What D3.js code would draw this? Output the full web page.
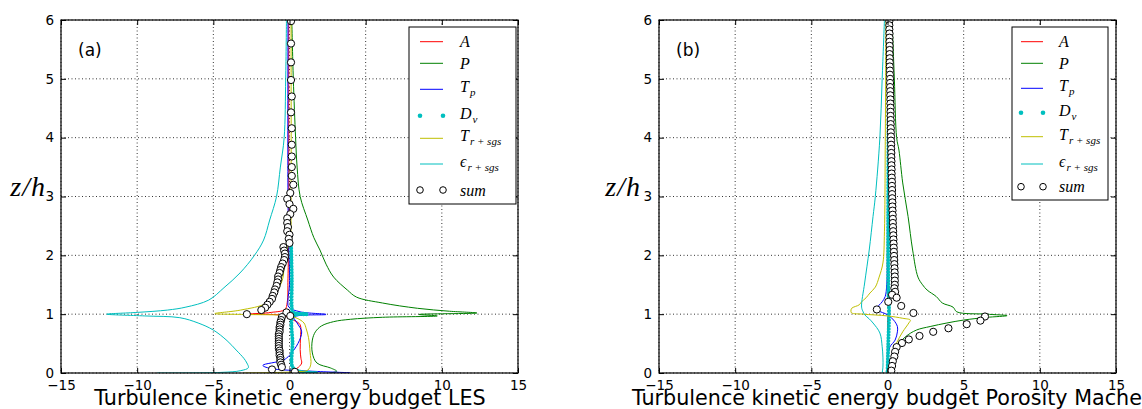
<!DOCTYPE html>
<meta charset="utf-8">
<script src="https://d3js.org/d3.v7.min.js"></script>
<style>
  body { margin: 0; background: #fff; }
  text { font-family: "DejaVu Sans", sans-serif; }
  .math { font-family: "Liberation Serif", "DejaVu Serif", serif; font-style: italic; }
</style>
<div id="chart"></div>
<script>

// axis ticks
var xTicks = [-15, -10, -5, 0, 5, 10, 15];
var yTicks = [0, 1, 2, 3, 4, 5, 6];

// legend entries (main symbol + subscript)
var names = ["A", "P", "T", "D", "T", "\u03f5", "sum"];
var subs  = ["", "", "p", "\u03bd", "r + sgs", "r + sgs", ""];

// ---- panel (a) : LES, points are [value, z/h]
var aA = [[-0.05,6],[-0.05,4],[-0.05,2.5],[-0.1,1.6],[-0.15,1.2],[-0.3,1.08],[-1.2,1.03],[-2.6,1.0],[-0.5,0.98],
  [0.25,0.9],[0.7,0.82],[0.72,0.6],[0.7,0.4],[0.75,0.25],[0.8,0.17],[0.6,0.1],[0.25,0.04],[0.05,0]];
var aP = [[0.15,6],[0.25,5],[0.4,4],[0.5,3.5],[0.7,3.0],[1.2,2.6],[1.6,2.3],[2.0,2.09],[2.4,1.85],[2.9,1.63],
  [3.8,1.41],[4.4,1.29],[6.1,1.19],[8.4,1.1],[10.5,1.05],[12.3,1.02],[8.5,0.995],[9.7,0.97],[6.1,0.947],
  [4.0,0.913],[2.9,0.873],[2.1,0.8],[1.7,0.7],[1.5,0.56],[1.5,0.34],[1.8,0.17],[2.7,0.085],[3.1,0.03],[2.6,0]];
var aTp = [[-0.1,6],[-0.1,3],[-0.05,2.2],[0,1.5],[-0.1,1.24],[-0.05,1.12],[0.7,1.04],[2.4,0.995],[0.3,0.95],
  [0.5,0.85],[0.8,0.7],[0.55,0.5],[0.0,0.3],[-0.4,0.22],[-1.75,0.13],[-1.3,0.08],[1.5,0.03],[4.0,0.005]];
// D_nu: dense part only (upper points sit under the sum markers)
var aD = [[0.1,2.22],[0.15,1.6],[0.15,1.1],[0.2,1.03],[1.2,1.0],[0.25,0.97],[0.2,0.5],
  [0.2,0.1],[0.6,0.03],[1.8,0]];
var aT = [[0.1,6],[0.1,3],[0.05,2.3],[-0.15,2.1],[-0.35,1.8],[-0.45,1.6],[-0.8,1.4],[-1.5,1.19],[-3.2,1.07],
  [-4.9,1.01],[-3.0,0.995],[-0.2,0.975],[0.5,0.93],[0.95,0.85],[1.1,0.75],[1.25,0.6],[1.35,0.35],[1.4,0.15],
  [1.2,0.05],[0.3,0.02],[-3.0,0]];
var aE = [[-0.2,6],[-0.25,5],[-0.35,4],[-0.6,3.5],[-0.85,3.0],[-1.3,2.6],[-1.7,2.26],[-2.3,2.0],[-3.25,1.7],
  [-4.3,1.45],[-5.3,1.24],[-6.8,1.12],[-8.0,1.07],[-10,1.03],[-12.0,1.0],[-9.5,0.97],[-7.2,0.94],[-6.0,0.85],
  [-5.0,0.73],[-4.1,0.55],[-3.5,0.39],[-3.0,0.25],[-2.8,0.17],[-2.7,0.09],[-3.2,0.04],[-4.5,0.01],[-8.7,0]];
var aSum = [[0.1,5.98],[0.1,5.6],[0.1,5.28],[0.1,4.98],[0.15,4.7],[0.1,4.43],[0.15,4.16],[0.15,3.88],[0.15,3.68],
  [0.15,3.5],[0.15,3.35],[0.25,3.2],[0.05,3.06],[-0.15,2.96],[0.0,2.87],[0.25,2.79],[0.05,2.7],[-0.15,2.63],
  [-0.15,2.55],[-0.1,2.48],[-0.15,2.41],[0.0,2.35],[-0.05,2.28],[0.0,2.21],[-0.4,2.14],[-0.35,2.08],[-0.3,2.03],
  [-0.3,1.97],[-0.35,1.92],[-0.45,1.86],[-0.55,1.8],[-0.6,1.75],[-0.65,1.7],[-0.75,1.64],[-0.75,1.59],[-0.8,1.54],
  [-0.85,1.48],[-0.95,1.42],[-1.0,1.37],[-1.1,1.31],[-1.15,1.26],[-1.3,1.21],[-1.45,1.16],[-1.6,1.11],[-1.85,1.07],
  [-2.8,1.0],[-0.2,1.03],[0.05,0.97],[-0.5,0.95],[-0.55,0.9],[-0.6,0.86],[-0.6,0.82],[-0.65,0.78],[-0.65,0.74],
  [-0.65,0.7],[-0.7,0.66],[-0.7,0.62],[-0.7,0.58],[-0.7,0.54],[-0.7,0.5],[-0.7,0.46],[-0.7,0.42],[-0.65,0.38],
  [-0.65,0.34],[-0.65,0.3],[-0.6,0.26],[-0.6,0.22],[-0.6,0.18],[-0.55,0.14],[-0.5,0.1],[-1.15,0.06],[0.35,0.02]];

// ---- panel (b) : porosity model
var bA = [[0.05,6],[0.0,3],[0.0,1.5],[0.05,1.1],[0.15,1.02],[0.05,0.95],[0.0,0.5],[0.0,0]];
var bP = [[0.3,6],[0.45,5],[0.6,4],[0.75,3.79],[1.0,3.23],[1.35,2.66],[1.65,2.09],[2.0,1.63],[2.3,1.5],[2.6,1.41],
  [3.2,1.3],[3.6,1.19],[4.3,1.12],[4.55,1.04],[6.5,1.0],[7.85,0.975],[6.5,0.945],[5.0,0.9],[3.9,0.85],[2.8,0.79],
  [1.9,0.73],[1.2,0.62],[0.8,0.51],[0.5,0.34],[0.3,0.17],[0.05,0]];
var bTp = [[0.0,6],[0.0,2],[-0.05,1.5],[-0.15,1.3],[-0.35,1.21],[-0.7,1.1],[-0.6,1.06],[0.0,0.99],[0.4,0.9],
  [0.65,0.79],[0.65,0.7],[0.5,0.56],[0.15,0.44],[0.05,0.3],[0.0,0]];
var bD = [[0.1,6],[0.05,3],[0.05,1.5],[0.1,1.0],[0.05,0.5],[0.0,0]];
var bT = [[-0.1,6],[-0.15,3.8],[-0.2,2.4],[-0.3,1.87],[-0.55,1.63],[-0.8,1.46],[-1.15,1.36],[-1.4,1.28],[-1.7,1.21],
  [-1.85,1.16],[-2.35,1.1],[-2.4,1.05],[-2.35,1.02],[-1.6,1.0],[0.0,0.97],[1.0,0.93],[1.5,0.9],[1.4,0.85],
  [1.0,0.7],[0.6,0.51],[0.3,0.27],[0.0,0]];
var bE = [[-0.2,6],[-0.35,5],[-0.5,4],[-0.8,3],[-0.95,2.66],[-1.2,2.09],[-1.5,1.53],[-1.7,1.12],[-1.6,1.04],
  [-1.5,0.99],[-1.2,0.92],[-0.95,0.85],[-0.5,0.68],[-0.35,0.45],[-0.3,0.27],[-0.3,0.1],[-0.35,0]];
var bSum = [[0.12,5.98],[0.12,5.91],[0.12,5.84],[0.13,5.77],[0.13,5.70],[0.13,5.63],[0.14,5.56],[0.14,5.49],
  [0.14,5.42],[0.15,5.35],[0.15,5.28],[0.15,5.21],[0.16,5.14],[0.16,5.07],[0.17,5.00],[0.17,4.93],[0.17,4.86],
  [0.18,4.79],[0.18,4.72],[0.19,4.65],[0.19,4.58],[0.2,4.51],[0.2,4.44],[0.2,4.37],[0.21,4.30],[0.21,4.23],
  [0.22,4.16],[0.22,4.09],[0.23,4.02],[0.23,3.95],[0.24,3.88],[0.24,3.81],[0.25,3.74],[0.25,3.67],[0.26,3.60],
  [0.26,3.53],[0.27,3.46],[0.27,3.39],[0.28,3.32],[0.29,3.25],[0.29,3.18],[0.3,3.11],[0.3,3.04],[0.31,2.97],
  [0.32,2.90],[0.32,2.83],[0.33,2.76],[0.34,2.69],[0.35,2.62],[0.35,2.55],[0.36,2.48],[0.37,2.41],[0.38,2.34],
  [0.39,2.27],[0.4,2.20],[0.41,2.13],[0.42,2.06],[0.43,1.99],[0.44,1.92],[0.45,1.85],[0.46,1.78],[0.47,1.71],
  [0.48,1.64],[0.48,1.57],[0.48,1.50],[0.45,1.44],[0.5,1.38],[0.3,1.33],[0.6,1.28],[0.05,1.21],[0.9,1.14],
  [-0.7,1.08],[1.7,1.02],[6.4,0.96],[6.1,0.89],[5.2,0.83],[4.0,0.76],[3.0,0.70],[2.1,0.63],[1.4,0.57],
  [0.95,0.51],[0.6,0.44],[0.5,0.36],[0.45,0.28],[0.35,0.20],[0.3,0.12],[0.25,0.04]];

var W = 1142, H = 409, yTop = 20, yBot = 373;

var panels = [
  { id: "a", left: 61, right: 518, tag: "(a)", title: "Turbulence kinetic energy budget LES",
    titleX: 290, titleAnchor: "middle", zhX: 46,
    data: [aA, aP, aTp, aD, aT, aE, aSum],
    legend: { x: 409, y: 27, w: 107, h: 177, l0: 11, l1: 34, tx: 51,
              rows: [14.7, 36.3, 62.3, 88.7, 111.3, 137, 163] } },
  { id: "b", left: 659, right: 1116, tag: "(b)", title: "Turbulence kinetic energy budget Porosity Mache",
    titleX: 632, titleAnchor: "start", zhX: 641,
    data: [bA, bP, bTp, bD, bT, bE, bSum],
    legend: { x: 1012, y: 27, w: 96, h: 173, l0: 9, l1: 31, tx: 47,
              rows: [14.7, 36.3, 61.3, 85.7, 109.7, 137, 159.7] } }
];

var colors = ["#ff0000", "#008000", "#0000ff", "#00bfbf", "#bfbf00", "#00bfbf", "#000"];

var svg = d3.select("#chart").append("svg")
    .attr("width", W).attr("height", H);

panels.forEach(function(p) {
  var x = d3.scaleLinear().domain([-15, 15]).range([p.left, p.right]);
  var y = d3.scaleLinear().domain([0, 6]).range([yBot, yTop]);
  var g = svg.append("g");

  // grid
  g.append("g").selectAll("line").data(xTicks).enter().append("line")
    .attr("x1", d => x(d)).attr("x2", d => x(d)).attr("y1", yTop).attr("y2", yBot)
    .attr("stroke", "#000").attr("stroke-width", 0.8).attr("stroke-dasharray", "1,2.5");
  g.append("g").selectAll("line").data(yTicks).enter().append("line")
    .attr("y1", d => y(d)).attr("y2", d => y(d)).attr("x1", p.left).attr("x2", p.right)
    .attr("stroke", "#000").attr("stroke-width", 0.8).attr("stroke-dasharray", "1,2.5");

  svg.append("clipPath").attr("id", "clip-" + p.id).append("rect")
    .attr("x", p.left).attr("y", yTop).attr("width", p.right - p.left).attr("height", yBot - yTop);

  var plot = g.append("g").attr("clip-path", "url(#clip-" + p.id + ")");
  var line = d3.line().x(d => x(d[0])).y(d => y(d[1])).curve(d3.curveCatmullRom.alpha(0.5));

  p.data.forEach(function(s, i) {
    if (i === 6) return;
    var path = plot.append("path").datum(s).attr("d", line).attr("fill", "none")
      .attr("stroke", colors[i]);
    if (i === 3) {
      path.attr("stroke-width", 4).attr("stroke-dasharray", "0,3").attr("stroke-linecap", "round");
    } else {
      path.attr("stroke-width", 1);
    }
  });

  // sum markers
  plot.append("g").selectAll("circle").data(p.data[6]).enter().append("circle")
    .attr("cx", d => x(d[0])).attr("cy", d => y(d[1])).attr("r", 3.6)
    .attr("fill", "#fff").attr("stroke", "#000").attr("stroke-width", 1);

  // spines
  g.append("rect").attr("x", p.left).attr("y", yTop)
    .attr("width", p.right - p.left).attr("height", yBot - yTop)
    .attr("fill", "none").attr("stroke", "#000").attr("stroke-width", 1.2);

  // axes with inward ticks
  var ax = [
    d3.axisBottom(x).tickValues(xTicks).tickPadding(7),
    d3.axisTop(x).tickValues(xTicks).tickFormat(""),
    d3.axisLeft(y).tickValues(yTicks).tickFormat(d3.format("d")).tickPadding(7),
    d3.axisRight(y).tickValues(yTicks).tickFormat("")
  ];
  var pos = ["translate(0," + yBot + ")", "translate(0," + yTop + ")",
             "translate(" + p.left + ",0)", "translate(" + p.right + ",0)"];
  ax.forEach(function(a, k) {
    var ag = g.append("g").attr("transform", pos[k])
      .call(a.tickSizeInner(-5).tickSizeOuter(0));
    ag.select(".domain").remove();
    ag.attr("font-size", null).attr("font-family", null);
    ag.selectAll("text").style("font-size", "13.5px").attr("fill", "#000")
      .style("font-family", "DejaVu Sans");
    ag.selectAll("line").attr("stroke", "#000");
  });

  // panel tag
  g.append("text").attr("x", p.left + 17).attr("y", 56).style("font-size", "17px").text(p.tag);

  // z/h label
  g.append("text").attr("class", "math").attr("x", p.zhX).attr("y", 196)
    .attr("text-anchor", "end").style("font-size", "28px").attr("letter-spacing", 1).text("z/h");

  // x label
  g.append("text").attr("x", p.titleX).attr("y", 405).attr("text-anchor", p.titleAnchor)
    .style("font-size", "20.7px").text(p.title);

  // legend
  var L = p.legend;
  var lg = g.append("g").attr("transform", "translate(" + L.x + "," + L.y + ")");
  lg.append("rect").attr("width", L.w).attr("height", L.h)
    .attr("fill", "#fff").attr("stroke", "#000").attr("stroke-width", 1);
  names.forEach(function(n, i) {
    var ry = L.rows[i];
    if (i === 3) {
      [L.l0, L.l1].forEach(function(cx) {
        lg.append("circle").attr("cx", cx).attr("cy", ry).attr("r", 2.3).attr("fill", colors[3]);
      });
    } else if (i === 6) {
      [L.l0, L.l1].forEach(function(cx) {
        lg.append("circle").attr("cx", cx).attr("cy", ry).attr("r", 3.3)
          .attr("fill", "#fff").attr("stroke", "#000");
      });
    } else {
      lg.append("line").attr("x1", L.l0).attr("x2", L.l1).attr("y1", ry).attr("y2", ry)
        .attr("stroke", colors[i]).attr("stroke-width", 1);
    }
    var t = lg.append("text").attr("class", "math").attr("x", L.tx)
      .attr("y", ry + (subs[i] ? 3 : 5.5)).style("font-size", "16px").text(n);
    if (subs[i]) {
      t.append("tspan").attr("dy", 4).attr("dx", 1).style("font-size", "11px").text(subs[i]);
    }
  });
});
</script>
